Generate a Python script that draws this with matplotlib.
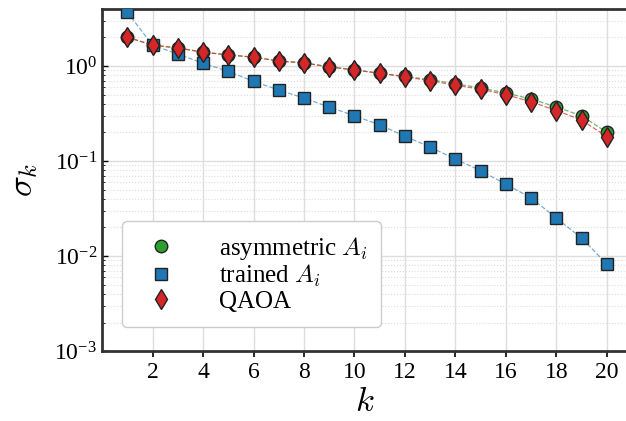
import matplotlib
matplotlib.use("Agg")
import matplotlib.pyplot as plt
import numpy as np

plt.rcParams['font.family'] = 'serif'
plt.rcParams['font.serif'] = ['Liberation Serif', 'DejaVu Serif']
plt.rcParams['mathtext.fontset'] = 'cm'

k = list(range(1, 21))
asym = [2.0, 1.66, 1.55, 1.40, 1.31, 1.24, 1.13, 1.08, 0.98, 0.91,
        0.84, 0.78, 0.72, 0.65, 0.59, 0.52, 0.45, 0.37, 0.30, 0.20]
trained = [3.7, 1.66, 1.34, 1.07, 0.88, 0.69, 0.56, 0.46, 0.37, 0.30,
           0.24, 0.183, 0.14, 0.105, 0.079, 0.057, 0.041, 0.025, 0.0155, 0.0082]
qaoa = [2.02, 1.66, 1.55, 1.40, 1.31, 1.24, 1.13, 1.08, 0.98, 0.91,
        0.84, 0.77, 0.70, 0.63, 0.57, 0.50, 0.42, 0.34, 0.27, 0.18]

fig = plt.figure(figsize=(6.26, 4.21), dpi=100)
ax = fig.add_axes([0.163, 0.166, 0.84, 0.813])

ax.plot(k, asym, '--', color='#2ca02c', lw=0.9, alpha=0.7, zorder=2)
ax.plot(k, asym, 'o', ls='none', color='#2ca02c', mec='#222222', mew=1.0, ms=9, zorder=3,
        label=r'asymmetric $A_i$')
ax.plot(k, trained, '--', color='#1f77b4', lw=0.9, alpha=0.6, zorder=2)
ax.plot(k, trained, 's', ls='none', color='#1f77b4', mec='#222222', mew=1.0, ms=8.5, zorder=3,
        label=r'trained $A_i$')
ax.plot(k, qaoa, '--', color='#d62728', lw=0.9, alpha=0.7, zorder=4)
ax.plot(k, qaoa, 'd', ls='none', color='#d62728', mec='#222222', mew=1.0, ms=10, zorder=5,
        label='QAOA')

ax.set_yscale('log')
ax.set_ylim(1e-3, 4.0)
ax.set_xlim(0, 20.83)
ax.set_xticks([2, 4, 6, 8, 10, 12, 14, 16, 18, 20])

ax.grid(True, which='major', color='#dddddd', lw=1.0, ls='-')
ax.grid(True, which='minor', axis='y', color='#dddddd', lw=0.8, ls=':')
ax.set_axisbelow(True)

for s in ['left', 'bottom', 'top']:
    ax.spines[s].set_linewidth(2.0)
    ax.spines[s].set_color('#333333')
ax.spines['right'].set_visible(False)

ax.tick_params(axis='x', which='major', direction='out', length=4, width=1.2, labelsize=17, pad=4)
ax.tick_params(axis='y', which='major', direction='in', length=4, width=1.0, labelsize=17)
ax.tick_params(axis='y', which='minor', direction='in', length=2, width=0.6)

ax.set_xlabel(r'$k$', fontsize=25, labelpad=2)
ax.set_ylabel(r'$\sigma_k$', fontsize=25, labelpad=10)

leg = ax.legend(loc='lower left', fontsize=18, frameon=True, fancybox=True,
                borderpad=0.55, handletextpad=1.3, labelspacing=0.05,
                bbox_to_anchor=(0.015, 0.035), edgecolor='#cccccc', framealpha=1.0)

fig.savefig('out.png', dpi=100)
